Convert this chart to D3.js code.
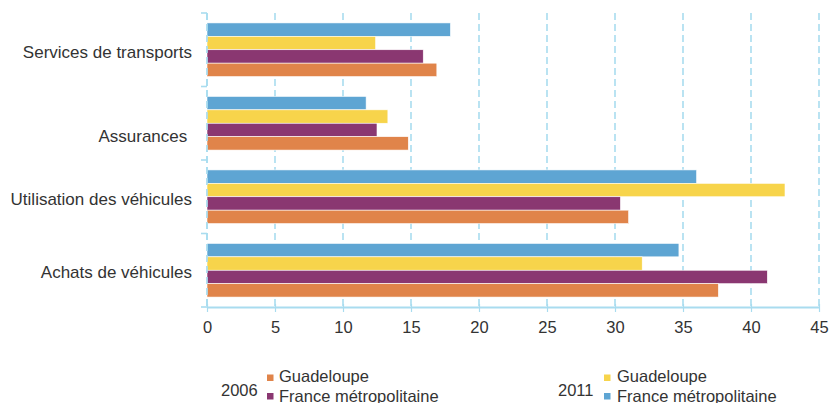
<!DOCTYPE html>
<html>
<head>
<meta charset="utf-8">
<script src="https://cdn.jsdelivr.net/npm/d3@7"></script>
<style>
    html, body { margin: 0; padding: 0; background: #fff; }
    svg { display: block; font-family: 'Liberation Sans', Arial, sans-serif; }
</style>
</head>
<body>
<svg id="chart" width="829" height="403"></svg>
<script>
'use strict';

// 品目（上から順）
const categories = ['Services de transports', 'Assurances ', 'Utilisation des véhicules', 'Achats de véhicules'];
// 系列（各グループ内で上から順）
const seriesKeys = ['fm2011', 'gp2011', 'fm2006', 'gp2006'];
const fm2011 = [17.9, 11.7, 36.0, 34.7];
const gp2011 = [12.4, 13.3, 42.5, 32.0];
const fm2006 = [15.9, 12.5, 30.4, 41.2];
const gp2006 = [16.9, 14.8, 31.0, 37.6];
const xTicks = [0, 5, 10, 15, 20, 25, 30, 35, 40, 45];

const seriesValues = { fm2011, gp2011, fm2006, gp2006 };
const colors = {
    gp2006: '#e0844a',
    fm2006: '#8a3771',
    gp2011: '#f7d44b',
    fm2011: '#5ea5d3'
};
const gridColor = '#a9dcef';

const svg = d3.select('#chart');
const plotLeft = 207, plotRight = 819, plotTop = 13, plotBottom = 307;

const x = d3.scaleLinear().domain([0, 45]).range([plotLeft, plotRight]);
const y = d3.scaleBand()
    .domain(categories)
    .range([plotTop, plotBottom])
    .paddingInner(0.27)
    .paddingOuter(0.135);
const ySub = d3.scaleBand()
    .domain(seriesKeys)
    .range([0, y.bandwidth()]);

// 縦の点線グリッド
svg.append('g')
    .selectAll('line')
    .data(xTicks)
    .join('line')
    .attr('x1', d => x(d))
    .attr('x2', d => x(d))
    .attr('y1', plotTop)
    .attr('y2', plotBottom)
    .attr('stroke', gridColor)
    .attr('stroke-width', 1.6)
    .attr('stroke-dasharray', '7,4');

// 棒
const rows = categories.map((c, i) => seriesKeys.map(k => ({ cat: c, key: k, value: seriesValues[k][i] }))).flat();
svg.append('g')
    .selectAll('rect')
    .data(rows)
    .join('rect')
    .attr('x', x(0))
    .attr('y', d => y(d.cat) + ySub(d.key))
    .attr('width', d => x(d.value) - x(0))
    .attr('height', ySub.bandwidth())
    .attr('fill', d => colors[d.key])
    .attr('stroke', '#fff')
    .attr('stroke-width', 0.6);

// 左軸：区切りの小さな目盛り
const step = y.step();
const bounds = d3.range(categories.length + 1).map(i => plotTop + i * step);
const yAxisG = svg.append('g');
yAxisG.append('line')
    .attr('x1', plotLeft).attr('x2', plotLeft)
    .attr('y1', plotTop).attr('y2', plotBottom)
    .attr('stroke', gridColor)
    .attr('stroke-width', 1.6)
    .attr('stroke-dasharray', '7,4');
yAxisG.selectAll('.ytick')
    .data(bounds)
    .join('line')
    .attr('class', 'ytick')
    .attr('x1', plotLeft - 6)
    .attr('x2', plotLeft)
    .attr('y1', d => d)
    .attr('y2', d => d)
    .attr('stroke', gridColor)
    .attr('stroke-width', 1.6);

// 品目ラベル
const labelShift = { 'Assurances ': 11 };
yAxisG.selectAll('.ylabel')
    .data(categories)
    .join('text')
    .attr('class', 'ylabel')
    .attr('x', 192)
    .attr('y', d => y(d) + y.bandwidth() / 2 + 2 + (labelShift[d] || 0))
    .attr('dy', '0.35em')
    .attr('text-anchor', 'end')
    .attr('font-size', '17px')
    .attr('fill', '#333')
    .style('white-space', 'pre')
    .text(d => d);

// 下軸
const xAxis = d3.axisBottom(x)
    .tickValues(xTicks)
    .tickSize(5)
    .tickPadding(9)
    .tickSizeOuter(0);
const xAxisG = svg.append('g')
    .attr('transform', `translate(0, ${plotBottom})`)
    .call(xAxis);
xAxisG.select('.domain')
    .attr('stroke', gridColor)
    .attr('stroke-width', 2.2);
xAxisG.selectAll('.tick line')
    .attr('stroke', gridColor)
    .attr('stroke-width', 1.2)
    .attr('y1', -3);
xAxisG.selectAll('.tick text')
    .attr('font-size', '16.5px')
    .attr('font-family', "'Liberation Sans', Arial, sans-serif")
    .attr('fill', '#333');

// 凡例
const legendGroups = [
    { year: '2006', yearX: 221, boxX: 267, textX: 279, items: [['gp2006', 'Guadeloupe'], ['fm2006', 'France métropolitaine']] },
    { year: '2011', yearX: 558, boxX: 604, textX: 617, items: [['gp2011', 'Guadeloupe'], ['fm2011', 'France métropolitaine']] }
];
const legend = svg.append('g').attr('font-size', '16.5px').attr('fill', '#333');
legendGroups.forEach(g => {
    legend.append('text')
        .attr('x', g.yearX)
        .attr('y', 395.5)
        .text(g.year);
    g.items.forEach(([key, label], i) => {
        legend.append('rect')
            .attr('x', g.boxX)
            .attr('y', 374.5 + i * 18.5)
            .attr('width', 6.5)
            .attr('height', 6.5)
            .attr('fill', colors[key]);
        legend.append('text')
            .attr('x', g.textX)
            .attr('y', 381.5 + i * 20.5)
            .text(label);
    });
});
</script>
</body>
</html>
